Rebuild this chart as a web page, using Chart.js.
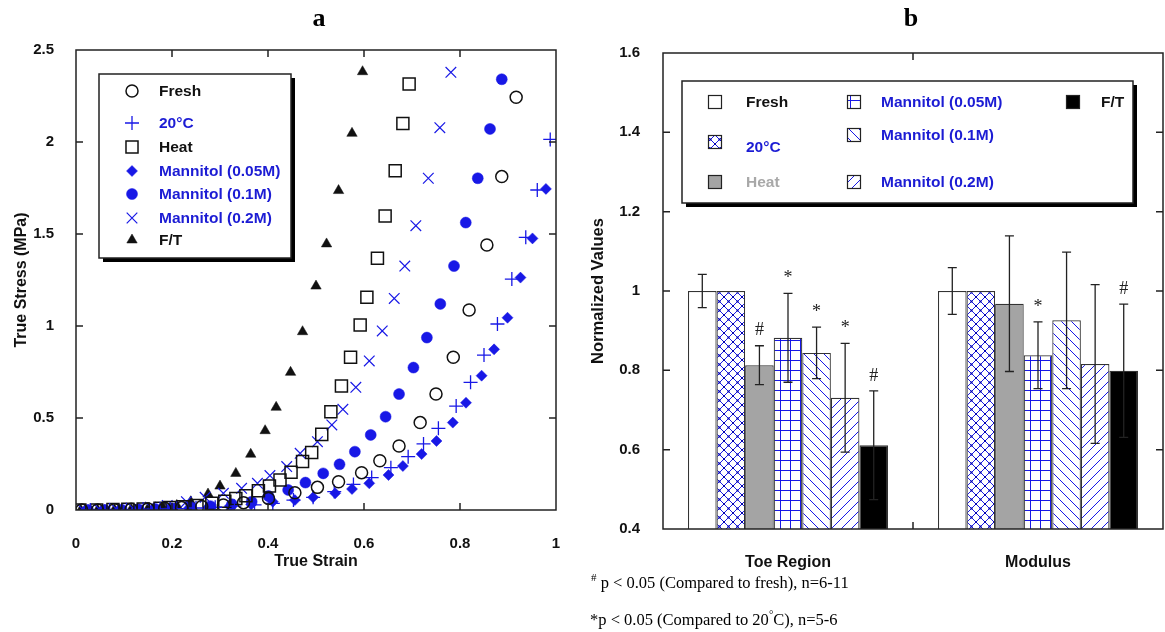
<!DOCTYPE html>
<html>
<head>
<meta charset="utf-8">
<script src="https://cdn.jsdelivr.net/npm/chart.js@4/dist/chart.umd.min.js"></script>
<style>
  body { margin: 0; background: #fff; }
  #wrap { position: relative; width: 1165px; height: 632px; overflow: hidden; }
  canvas { position: absolute; top: 0; }
  .panel { position: absolute; font: bold 26px "Liberation Serif", serif; transform: translate(-50%, -50%); }
  .note { position: absolute; font: 16.5px "Liberation Serif", serif; white-space: nowrap; transform: translateY(-50%); }
  .note sup { font-size: 11px; }
</style>
</head>
<body>
<div id="wrap">
  <canvas id="stress" width="580" height="632" style="left:0"></canvas>
  <canvas id="norm" width="585" height="632" style="left:580px"></canvas>
  <div class="panel" style="left:319px; top:18px">a</div>
  <div class="panel" style="left:911px; top:18px">b</div>
  <div class="note" style="left:591px; top:582px"><sup>#</sup> p &lt; 0.05 (Compared to fresh), n=6-11</div>
  <div class="note" style="left:590px; top:619px">*p &lt; 0.05 (Compared to 20<sup>°</sup>C), n=5-6</div>
</div>
<script>
// ---- stress-strain curves (panel a) ----
var freshStrain = [0.012, 0.045, 0.08, 0.115, 0.15, 0.185, 0.22, 0.262, 0.307, 0.349, 0.401, 0.456, 0.503, 0.547, 0.595, 0.633, 0.673, 0.717, 0.750, 0.786, 0.819, 0.856, 0.887, 0.917];
var freshStress = [0, 0, 0.002, 0.004, 0.006, 0.009, 0.013, 0.019, 0.027, 0.040, 0.063, 0.094, 0.123, 0.154, 0.203, 0.268, 0.348, 0.475, 0.630, 0.830, 1.087, 1.440, 1.812, 2.243];

var c20Strain = [0.03, 0.07, 0.105, 0.14, 0.175, 0.21, 0.25, 0.29, 0.33, 0.372, 0.410, 0.453, 0.494, 0.538, 0.578, 0.616, 0.656, 0.692, 0.724, 0.755, 0.792, 0.822, 0.850, 0.878, 0.908, 0.937, 0.961, 0.988];
var c20Stress = [0, 0, 0.002, 0.004, 0.006, 0.008, 0.011, 0.015, 0.021, 0.028, 0.036, 0.054, 0.069, 0.100, 0.139, 0.176, 0.230, 0.290, 0.359, 0.444, 0.565, 0.694, 0.842, 1.011, 1.255, 1.482, 1.739, 2.014];

var heatStrain = [0.008, 0.043, 0.077, 0.108, 0.14, 0.175, 0.196, 0.223, 0.252, 0.283, 0.310, 0.333, 0.354, 0.380, 0.403, 0.425, 0.448, 0.472, 0.491, 0.512, 0.531, 0.553, 0.572, 0.592, 0.606, 0.628, 0.644, 0.665, 0.681, 0.694];
var heatStress = [0, 0, 0.002, 0.004, 0.006, 0.010, 0.013, 0.018, 0.025, 0.036, 0.048, 0.063, 0.078, 0.105, 0.130, 0.163, 0.205, 0.263, 0.312, 0.411, 0.534, 0.674, 0.830, 1.005, 1.156, 1.368, 1.598, 1.844, 2.101, 2.315];

var m005Strain = [0.02, 0.055, 0.09, 0.125, 0.16, 0.195, 0.235, 0.275, 0.32, 0.365, 0.410, 0.456, 0.494, 0.540, 0.575, 0.611, 0.651, 0.681, 0.720, 0.751, 0.785, 0.8125, 0.845, 0.871, 0.899, 0.926, 0.951, 0.979];
var m005Stress = [0, 0, 0.001, 0.003, 0.005, 0.007, 0.010, 0.014, 0.020, 0.030, 0.045, 0.054, 0.069, 0.091, 0.114, 0.145, 0.190, 0.239, 0.304, 0.375, 0.475, 0.583, 0.730, 0.873, 1.045, 1.263, 1.476, 1.745];

var m01Strain = [0.025, 0.06, 0.095, 0.13, 0.165, 0.2, 0.24, 0.28, 0.325, 0.366, 0.401, 0.442, 0.478, 0.515, 0.549, 0.581, 0.614, 0.645, 0.673, 0.703, 0.731, 0.759, 0.7875, 0.812, 0.837, 0.8625, 0.887];
var m01Stress = [0, 0, 0.002, 0.004, 0.006, 0.009, 0.014, 0.021, 0.031, 0.045, 0.076, 0.109, 0.149, 0.199, 0.248, 0.317, 0.408, 0.507, 0.630, 0.774, 0.937, 1.120, 1.326, 1.562, 1.803, 2.071, 2.341];

var m02Strain = [0.015, 0.05, 0.085, 0.12, 0.155, 0.19, 0.23, 0.269, 0.307, 0.345, 0.378, 0.404, 0.439, 0.467, 0.503, 0.533, 0.556, 0.583, 0.611, 0.638, 0.663, 0.685, 0.708, 0.734, 0.758, 0.781];
var m02Stress = [0, 0.001, 0.003, 0.006, 0.015, 0.025, 0.045, 0.069, 0.091, 0.118, 0.145, 0.187, 0.236, 0.308, 0.371, 0.462, 0.547, 0.667, 0.810, 0.973, 1.150, 1.326, 1.545, 1.803, 2.078, 2.379];

var ftStrain = [0.01, 0.045, 0.08, 0.115, 0.15, 0.18, 0.21, 0.239, 0.275, 0.300, 0.333, 0.364, 0.394, 0.417, 0.447, 0.472, 0.500, 0.522, 0.547, 0.575, 0.597];
var ftStress = [0, 0, 0.002, 0.004, 0.008, 0.015, 0.025, 0.045, 0.087, 0.130, 0.199, 0.303, 0.431, 0.558, 0.748, 0.969, 1.217, 1.446, 1.736, 2.047, 2.382];

// ---- normalized values (panel b) ----
var groups = ['Toe Region', 'Modulus'];
var treatments = ['Fresh', '20°C', 'Heat', 'Mannitol (0.05M)', 'Mannitol (0.1M)', 'Mannitol (0.2M)', 'F/T'];
var toeMean = [1.0, 1.0, 0.813, 0.882, 0.844, 0.731, 0.611];
var toeErr  = [0.042, 0, 0.049, 0.112, 0.065, 0.137, 0.137];
var modMean = [1.0, 1.0, 0.968, 0.838, 0.926, 0.816, 0.799];
var modErr  = [0.059, 0, 0.171, 0.084, 0.172, 0.2, 0.168];
var toeMarks = ['', '', '#', '*', '*', '*', '#'];
var modMarks = ['', '', '', '*', '', '', '#'];

var BLUE = '#1818e6';
var TXTBLUE = '#1c1cd4';
var FONT = '"Liberation Sans", Arial, sans-serif';

function pts(xs, ys) {
  return xs.map(function (x, i) { return { x: x, y: ys[i] }; });
}

// tick text without trailing zeros: 0, 0.5, 1, 1.5 ...
function plainNum(v) {
  return String(Math.round(v * 100) / 100);
}

// box around the plot area with short inward ticks on all four sides
function frameWith(xTicks, yTicks) {
  return {
    id: 'frame',
    afterDraw: function (chart) {
      var ctx = chart.ctx, a = chart.chartArea, len = 7;
      ctx.save();
      ctx.strokeStyle = '#222';
      ctx.lineWidth = 1.5;
      ctx.strokeRect(a.left, a.top, a.right - a.left, a.bottom - a.top);
      ctx.beginPath();
      xTicks(chart).forEach(function (px) {
        ctx.moveTo(px, a.bottom); ctx.lineTo(px, a.bottom - len);
        ctx.moveTo(px, a.top); ctx.lineTo(px, a.top + len);
      });
      yTicks(chart).forEach(function (py) {
        ctx.moveTo(a.left, py); ctx.lineTo(a.left + len, py);
        ctx.moveTo(a.right, py); ctx.lineTo(a.right - len, py);
      });
      ctx.stroke();
      ctx.restore();
    }
  };
}

function innerTicks(scale) {
  return scale.ticks
    .filter(function (t) { return t.value > scale.min && t.value < scale.max; })
    .map(function (t) { return scale.getPixelForValue(t.value); });
}

// legend for the scatter panel, drawn inside the plot with a drop shadow
var scatterLegend = {
  id: 'scatterLegend',
  afterDraw: function (chart) {
    var ctx = chart.ctx;
    var x0 = 99, y0 = 74, w = 192, h = 184;
    ctx.save();
    ctx.fillStyle = '#000';
    ctx.fillRect(x0 + 4, y0 + 4, w, h);
    ctx.fillStyle = '#fff';
    ctx.fillRect(x0, y0, w, h);
    ctx.strokeStyle = '#222';
    ctx.lineWidth = 1.5;
    ctx.strokeRect(x0, y0, w, h);
    var rows = [91, 123, 147, 171, 194, 218, 240];
    ctx.font = 'bold 15.5px ' + FONT;
    ctx.textBaseline = 'middle';
    chart.data.datasets.forEach(function (ds, i) {
      ctx.fillStyle = ds.backgroundColor;
      ctx.strokeStyle = ds.borderColor;
      ctx.lineWidth = ds.borderWidth;
      Chart.helpers.drawPoint(ctx, {
        pointStyle: ds.pointStyle, radius: ds.pointRadius, rotation: 0, borderWidth: ds.borderWidth
      }, 132, rows[i]);
      ctx.fillStyle = ds.labelColor;
      ctx.fillText(ds.label, 159, rows[i] + 1);
    });
    ctx.restore();
  }
};

var scatterSets = [
  { label: 'Fresh', data: pts(freshStrain, freshStress), pointStyle: 'circle', pointRadius: 6,
    backgroundColor: 'rgba(0,0,0,0)', borderColor: '#111', borderWidth: 1.5, labelColor: '#111' },
  { label: '20°C', data: pts(c20Strain, c20Stress), pointStyle: 'cross', pointRadius: 7,
    backgroundColor: BLUE, borderColor: BLUE, borderWidth: 1.3, labelColor: TXTBLUE },
  { label: 'Heat', data: pts(heatStrain, heatStress), pointStyle: 'rect', pointRadius: 8.5,
    backgroundColor: 'rgba(0,0,0,0)', borderColor: '#111', borderWidth: 1.5, labelColor: '#111' },
  { label: 'Mannitol (0.05M)', data: pts(m005Strain, m005Stress), pointStyle: 'rectRot', pointRadius: 5.5,
    backgroundColor: BLUE, borderColor: BLUE, borderWidth: 0.5, labelColor: TXTBLUE },
  { label: 'Mannitol (0.1M)', data: pts(m01Strain, m01Stress), pointStyle: 'circle', pointRadius: 5.5,
    backgroundColor: BLUE, borderColor: BLUE, borderWidth: 0.5, labelColor: TXTBLUE },
  { label: 'Mannitol (0.2M)', data: pts(m02Strain, m02Stress), pointStyle: 'crossRot', pointRadius: 7.5,
    backgroundColor: BLUE, borderColor: BLUE, borderWidth: 1.2, labelColor: TXTBLUE },
  { label: 'F/T', data: pts(ftStrain, ftStress), pointStyle: 'triangle', pointRadius: 6,
    backgroundColor: '#111', borderColor: '#111', borderWidth: 0.5, labelColor: '#111' }
];

new Chart(document.getElementById('stress'), {
  type: 'scatter',
  data: { datasets: scatterSets },
  options: {
    responsive: false,
    animation: false,
    layout: { padding: { top: 50, right: 24, bottom: 61, left: 0 } },
    plugins: { legend: { display: false }, tooltip: { enabled: false } },
    scales: {
      x: {
        type: 'linear', min: 0, max: 1,
        grid: { display: false }, border: { display: false },
        ticks: { stepSize: 0.2, color: '#111', padding: 17, callback: plainNum,
                 font: { family: FONT, size: 15, weight: 'bold' } },
        title: { display: true, text: 'True Strain', color: '#111', padding: { top: 0, bottom: 0 },
                 font: { family: FONT, size: 16, weight: 'bold' } },
        afterFit: function (s) { s.height = 61; }
      },
      y: {
        min: 0, max: 2.5,
        grid: { display: false }, border: { display: false },
        ticks: { stepSize: 0.5, color: '#111', padding: 14, callback: plainNum,
                 font: { family: FONT, size: 15, weight: 'bold' } },
        title: { display: true, text: 'True Stress (MPa)', color: '#111', padding: { top: 12, bottom: 0 },
                 font: { family: FONT, size: 16, weight: 'bold' } },
        afterFit: function (s) { s.width = 76; }
      }
    }
  },
  plugins: [
    frameWith(function (c) { return innerTicks(c.scales.x); }, function (c) { return innerTicks(c.scales.y); }),
    scatterLegend
  ]
});

// ---- hatch fills for the bar panel ----
function hatch(kind) {
  var s = kind === 'cross' ? 9 : 10;
  var c = document.createElement('canvas');
  c.width = s; c.height = s;
  var g = c.getContext('2d');
  g.fillStyle = '#fff';
  g.fillRect(0, 0, s, s);
  g.strokeStyle = BLUE;
  g.lineWidth = 1;
  g.beginPath();
  for (var k = -1; k <= 1; k++) {
    if (kind === 'back' || kind === 'cross') { g.moveTo(k * s, 0); g.lineTo(k * s + s, s); }
    if (kind === 'slash' || kind === 'cross') { g.moveTo(k * s, s); g.lineTo(k * s + s, 0); }
  }
  if (kind === 'grid') {
    g.moveTo(0, 0.5); g.lineTo(s, 0.5);
    g.moveTo(0.5, 0); g.lineTo(0.5, s);
  }
  g.stroke();
  if (kind === 'cross') {
    g.fillStyle = '#0000b0';
    g.fillRect(s / 2 - 1, s / 2 - 1, 2, 2);
    g.fillRect(-1, -1, 2, 2); g.fillRect(s - 1, -1, 2, 2);
    g.fillRect(-1, s - 1, 2, 2); g.fillRect(s - 1, s - 1, 2, 2);
  }
  return g.createPattern(c, 'repeat');
}

var normCtx = document.getElementById('norm').getContext('2d');
var fills = ['#ffffff', hatch('cross'), '#a4a4a4', hatch('grid'), hatch('back'), hatch('slash'), '#000000'];
var legendText = ['#111', TXTBLUE, '#a8a8a8', TXTBLUE, TXTBLUE, TXTBLUE, '#111'];

var barSets = treatments.map(function (name, i) {
  return {
    label: name,
    data: [toeMean[i], modMean[i]],
    errors: [toeErr[i], modErr[i]],
    marks: [toeMarks[i], modMarks[i]],
    backgroundColor: fills[i],
    borderColor: '#333',
    borderWidth: 1.2,
    borderSkipped: false,
    categoryPercentage: 0.8,
    barPercentage: 1.0
  };
});

// error bars and significance marks on top of the bars
var errorBars = {
  id: 'errorBars',
  afterDatasetsDraw: function (chart) {
    var ctx = chart.ctx, y = chart.scales.y;
    ctx.save();
    ctx.strokeStyle = '#222';
    ctx.lineWidth = 1.3;
    ctx.fillStyle = '#222';
    ctx.textAlign = 'center';
    ctx.textBaseline = 'middle';
    ctx.font = '18px "Liberation Serif", serif';
    chart.data.datasets.forEach(function (ds, i) {
      chart.getDatasetMeta(i).data.forEach(function (bar, j) {
        var v = ds.data[j], e = ds.errors[j];
        var top = y.getPixelForValue(v + e), bot = y.getPixelForValue(v - e);
        if (e > 0) {
          ctx.beginPath();
          ctx.moveTo(bar.x, top); ctx.lineTo(bar.x, bot);
          ctx.moveTo(bar.x - 4.5, top); ctx.lineTo(bar.x + 4.5, top);
          ctx.moveTo(bar.x - 4.5, bot); ctx.lineTo(bar.x + 4.5, bot);
          ctx.stroke();
        }
        if (ds.marks[j]) ctx.fillText(ds.marks[j], bar.x, top - 15);
      });
    });
    ctx.restore();
  }
};

var barLegend = {
  id: 'barLegend',
  afterDraw: function (chart) {
    var ctx = chart.ctx, ox = -580;
    var x0 = 682 + ox, y0 = 81, w = 451, h = 122;
    ctx.save();
    ctx.fillStyle = '#000';
    ctx.fillRect(x0 + 4, y0 + 4, w, h);
    ctx.fillStyle = '#fff';
    ctx.fillRect(x0, y0, w, h);
    ctx.strokeStyle = '#222';
    ctx.lineWidth = 1.5;
    ctx.strokeRect(x0, y0, w, h);
    var spots = [[715, 102, 746, 102], [715, 142, 746, 147], [715, 182, 746, 182],
                 [854, 102, 881, 102], [854, 135, 881, 135], [854, 182, 881, 182],
                 [1073, 102, 1101, 102]];
    ctx.font = 'bold 15.5px ' + FONT;
    ctx.textBaseline = 'middle';
    chart.data.datasets.forEach(function (ds, i) {
      var p = spots[i];
      ctx.fillStyle = ds.backgroundColor;
      ctx.fillRect(p[0] + ox - 6.5, p[1] - 6.5, 13, 13);
      ctx.strokeStyle = '#222';
      ctx.lineWidth = 1.2;
      ctx.strokeRect(p[0] + ox - 6.5, p[1] - 6.5, 13, 13);
      ctx.fillStyle = legendText[i];
      ctx.fillText(ds.label, p[2] + ox, p[3] + 1);
    });
    ctx.restore();
  }
};

new Chart(normCtx, {
  type: 'bar',
  data: { labels: groups, datasets: barSets },
  options: {
    responsive: false,
    animation: false,
    layout: { padding: { top: 53, right: 2, bottom: 53, left: 0 } },
    plugins: { legend: { display: false }, tooltip: { enabled: false } },
    scales: {
      x: {
        grid: { display: false }, border: { display: false },
        ticks: { color: '#111', padding: 16, font: { family: FONT, size: 16, weight: 'bold' } },
        afterFit: function (s) { s.height = 50; }
      },
      y: {
        min: 0.4, max: 1.6,
        grid: { display: false }, border: { display: false },
        ticks: { stepSize: 0.2, color: '#111', padding: 15, callback: plainNum,
                 font: { family: FONT, size: 15, weight: 'bold' } },
        title: { display: true, text: 'Normalized Values', color: '#111', padding: { top: 9, bottom: 0 },
                 font: { family: FONT, size: 16.5, weight: 'bold' } },
        afterFit: function (s) { s.width = 83; }
      }
    }
  },
  plugins: [
    frameWith(function (c) {
      var x = c.scales.x;
      return [(x.getPixelForValue(0) + x.getPixelForValue(1)) / 2];
    }, function (c) { return innerTicks(c.scales.y); }),
    errorBars,
    barLegend
  ]
});
</script>
</body>
</html>
